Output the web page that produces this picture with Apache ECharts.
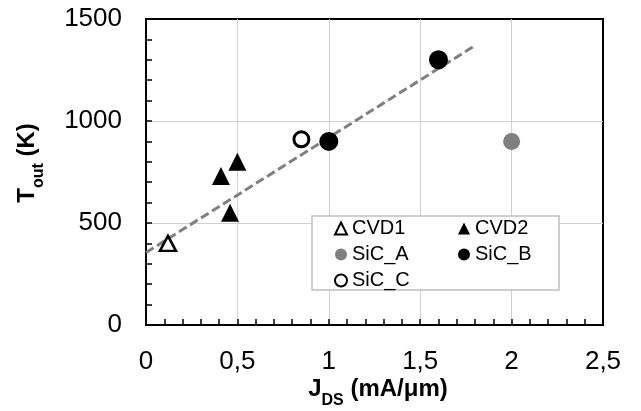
<!DOCTYPE html>
<html><head><meta charset="utf-8">
<script src="https://cdn.jsdelivr.net/npm/echarts@6/dist/echarts.min.js"></script>
<style>html,body{margin:0;padding:0;background:#fff}#c{width:641px;height:411px}</style>
</head><body><div id="c"></div>
<script>
const cvd1X = [0.12], cvd1Y = [400];
const cvd2X = [0.41, 0.5, 0.46], cvd2Y = [730, 800, 550];
const sicAX = [2.0], sicAY = [900];
const sicBX = [1.0, 1.6], sicBY = [900, 1300];
const sicCX = [0.85], sicCY = [910];
const trendX = [0, 1.8], trendY = [355, 1370];
const xTicks = [0, 0.5, 1, 1.5, 2, 2.5];
const yTicks = [0, 500, 1000, 1500];
const xTitle = '{a|J}{b|DS}{a| (mA/μm)}';
const yTitle = '{a|T}{b|out}{a| (K)}';

const pts = (xs, ys) => xs.map((x, i) => [x, ys[i]]);
const FF = "'Liberation Sans', Arial, sans-serif";
const fmt = v => String(v).replace('.', ',');
const rich = {
  a: {fontSize: 24, fontWeight: 'bold', fontFamily: FF, fill: '#000', color: '#000', lineHeight: 24, verticalAlign: 'top'},
  b: {fontSize: 16, fontWeight: 'bold', fontFamily: FF, fill: '#000', color: '#000', lineHeight: 16, verticalAlign: 'top', padding: [16, 0, 0, 0]}
};

const chart = echarts.init(document.getElementById('c'), null, {renderer: 'canvas'});
function axisBase(margin) {
  return {
    axisLine: {show: true, onZero: false, lineStyle: {color: '#000', width: 2}},
    axisTick: {show: true, inside: true, length: 6, lineStyle: {color: '#000', width: 1.5}},
    minorTick: {show: true, splitNumber: 5, length: 6, lineStyle: {color: '#000', width: 1.5}},
    splitLine: {show: true, showMinLine: false, showMaxLine: false, lineStyle: {color: '#d0d0d0', width: 1}},
    axisLabel: {color: '#000', fontSize: 26, fontFamily: FF, formatter: fmt, margin: margin}
  };
}
const legendText = {fontSize: 20, lineHeight: 25, fontFamily: FF, color: '#000'};
const option = {
  animation: false,
  grid: {left: 146, right: 38, top: 19, bottom: 86, show: true, borderColor: '#000', borderWidth: 2, backgroundColor: 'transparent'},
  xAxis: Object.assign(axisBase(24), {type: 'value', position: 'bottom',
    min: xTicks[0], max: xTicks[xTicks.length - 1], interval: xTicks[1] - xTicks[0]}),
  yAxis: Object.assign(axisBase(24), {type: 'value', position: 'left',
    min: yTicks[0], max: yTicks[yTicks.length - 1], interval: yTicks[1] - yTicks[0]}),
  legend: [
    {orient: 'vertical', left: 334, top: 216, padding: 0, itemGap: 1, itemWidth: 12, itemHeight: 12, z: 20,
     selectedMode: false, data: ['CVD1', 'SiC_A', 'SiC_C'], textStyle: legendText},
    {orient: 'vertical', left: 458, top: 216, padding: 0, itemGap: 1, itemWidth: 12, itemHeight: 12, z: 20,
     selectedMode: false, data: ['CVD2', 'SiC_B'], textStyle: legendText}
  ],
  graphic: [
    {type: 'rect', z: 10, shape: {x: 312, y: 216, width: 247, height: 74},
     style: {fill: '#fff', stroke: '#c0c0c0', lineWidth: 1.5}},
    {type: 'text', z: 10, x: 378, y: 377,
     style: {text: xTitle, align: 'center', verticalAlign: 'top', rich: rich, fill: '#000', font: 'bold 24px ' + FF}},
    {type: 'text', z: 10, x: 15, y: 163, rotation: Math.PI / 2,
     style: {text: yTitle, align: 'center', verticalAlign: 'top', rich: rich, fill: '#000', font: 'bold 24px ' + FF}}
  ],
  series: [
    {name: 'Trend', type: 'line', data: pts(trendX, trendY), symbol: 'none', z: 1,
     lineStyle: {color: '#808080', width: 3, type: [9, 4]}},
    {name: 'CVD1', type: 'scatter', data: pts(cvd1X, cvd1Y), symbol: 'triangle', symbolSize: [16, 15],
     itemStyle: {color: '#fff', borderColor: '#000', borderWidth: 2.5, opacity: 1}},
    {name: 'CVD2', type: 'scatter', data: pts(cvd2X, cvd2Y), symbol: 'triangle', symbolSize: [18, 18],
     itemStyle: {color: '#000', opacity: 1}},
    {name: 'SiC_A', type: 'scatter', data: pts(sicAX, sicAY), symbol: 'circle', symbolSize: 17,
     itemStyle: {color: '#808080', opacity: 1}},
    {name: 'SiC_B', type: 'scatter', data: pts(sicBX, sicBY), symbol: 'circle', symbolSize: 19,
     itemStyle: {color: '#000', opacity: 1}},
    {name: 'SiC_C', type: 'scatter', data: pts(sicCX, sicCY), symbol: 'circle', symbolSize: 15,
     itemStyle: {color: '#fff', borderColor: '#000', borderWidth: 3, opacity: 1}}
  ]
};
chart.setOption(option);
</script></body></html>
